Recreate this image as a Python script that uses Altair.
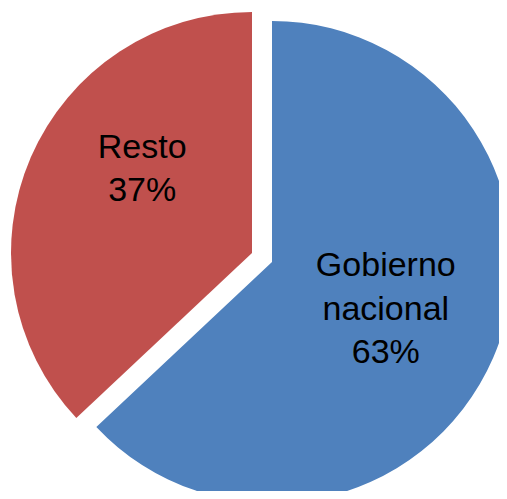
import altair as alt
import pandas as pd

categories = ["Gobierno nacional", "Resto"]
values = [63, 37]
label_lines = [["Gobierno", "nacional", "63%"], ["Resto", "37%"]]
colors = ["#4F81BD", "#C0504D"]

df = pd.DataFrame({"cat": categories, "value": values, "label": label_lines})

base = alt.Chart(df).transform_window(
    end="sum(value)", frame=[None, 0]
).transform_calculate(
    start="datum.end - datum.value",
    mid="datum.end - datum.value / 2",
)

theta_scale = alt.Scale(domain=[0, 100], range=[0, 6.283185307179586])
color_scale = alt.Scale(domain=categories, range=colors)

R = 241
centers = {"Gobierno nacional": (264, 254), "Resto": (244, 245)}
label_adj = {"Gobierno nacional": (0, -45), "Resto": (4, -56)}

layers = []
for c in categories:
    cx, cy = centers[c]
    sub = base.transform_filter(alt.datum.cat == c)
    arc = sub.mark_arc(outerRadius=R, stroke=None).encode(
        x=alt.value(cx), y=alt.value(cy),
        theta=alt.Theta("start:Q", scale=theta_scale),
        theta2="end:Q",
        color=alt.Color("cat:N", scale=color_scale, legend=None),
    )
    dx, dy = label_adj[c]
    txt = sub.mark_text(
        radius=124, font="Liberation Sans", fontSize=34, color="black",
        align="center", baseline="middle", lineHeight=43.5, dx=dx, dy=dy,
    ).encode(
        x=alt.value(cx), y=alt.value(cy),
        theta=alt.Theta("mid:Q", scale=theta_scale),
        text="label",
    )
    layers += [arc, txt]

chart = alt.layer(*layers).properties(
    width=491, height=483, padding=0, autosize="none"
).configure_view(stroke=None)

chart.save("out.html", embed_options={"renderer": "svg", "actions": False})
